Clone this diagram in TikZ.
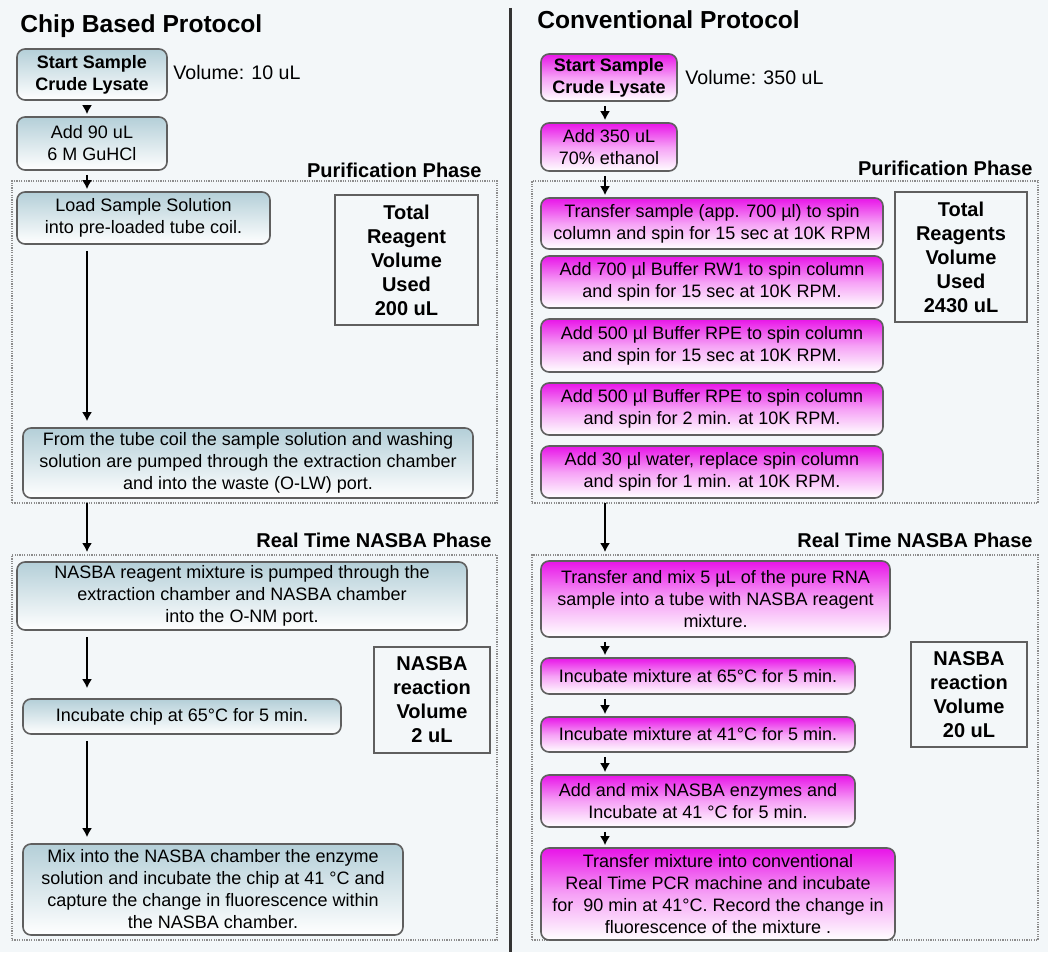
\documentclass[tikz,border=0pt]{standalone}
\usepackage{fontspec}
\setmainfont{Liberation Sans}
\usetikzlibrary{arrows.meta}

\definecolor{bgcol}{RGB}{243,247,249}
\definecolor{chiptop}{RGB}{180,207,216}
\definecolor{convtop}{RGB}{232,20,232}
\definecolor{edgecol}{RGB}{95,95,95}

\tikzset{
  chipbox/.style={draw=edgecol, line width=0.8pt, rounded corners=4pt,
    top color=chiptop, bottom color=white, align=center, inner sep=0pt,
    font=\fontsize{9}{11}\selectfont},
  convbox/.style={chipbox, top color=convtop, bottom color=white, middle color=convtop!40!white},
  startbox/.style={font=\bfseries\fontsize{9}{11}\selectfont},
  volbox/.style={draw=edgecol, line width=0.8pt, align=center, inner sep=0pt,
    font=\bfseries\fontsize{10}{12}\selectfont},
  phaseframe/.style={draw=gray!90, dash pattern=on 0.6pt off 0.6pt, line width=0.9pt, inner sep=0pt},
  phaselabel/.style={font=\bfseries\fontsize{10}{12}\selectfont, anchor=south east, inner sep=0pt},
  flow/.style={-{Latex[length=4.5pt,width=5pt]}, line width=1.2pt, shorten <=2pt, shorten >=1pt}
}

\begin{document}
\begin{tikzpicture}[x=0.5pt, y=-0.5pt]
  % background
  \fill[bgcol] (0,0) rectangle (1048,952);
  \useasboundingbox (0,0) rectangle (1048,952);

  % divider
  \draw[line width=1.5pt, black!80] (510,8) -- (510,952);

  % titles
  \node[anchor=base west, inner sep=0pt, font=\bfseries\fontsize{12.3}{14}\selectfont] (ltitle) at (20,33) {Chip Based Protocol};
  \node[anchor=base west, inner sep=0pt, font=\bfseries\fontsize{12.3}{14}\selectfont] (rtitle) at (537,29) {Conventional Protocol};

  % phase frames
  \node[phaseframe, minimum width=242.5pt, minimum height=161pt] (lpur) at (254.5,342) {};
  \node[phaseframe, minimum width=242.5pt, minimum height=192.5pt] (lnas) at (254.5,747.5) {};
  \node[phaseframe, minimum width=253pt, minimum height=161pt] (rpur) at (785,342) {};
  \node[phaseframe, minimum width=253pt, minimum height=192.5pt] (rnas) at (785,747.5) {};
  \node[phaselabel] (lpurlab) at (482,178) {Purification Phase};
  \node[phaselabel] (lnaslab) at (492,548) {Real Time NASBA Phase};
  \node[phaselabel] (rpurlab) at (1033,176) {Purification Phase};
  \node[phaselabel] (rnaslab) at (1033,548) {Real Time NASBA Phase};

  % chip based protocol
  \node[chipbox, startbox, minimum width=75pt, minimum height=25.5pt] (lstart) at (92,74.5) {Start Sample\\Crude Lysate};
  \node[anchor=base west, inner sep=0pt, font=\fontsize{9.8}{12}\selectfont] (lvol) at (173,80) {Volume: 10 uL};
  \node[chipbox, minimum width=75pt, minimum height=26.5pt] (ladd) at (92,143.5) {Add 90 uL\\6 M GuHCl};
  \node[chipbox, minimum width=126.5pt, minimum height=26pt] (lload) at (143.5,218) {Load Sample Solution\\into pre-loaded tube coil.};
  \node[volbox, minimum width=71.5pt, minimum height=65pt] (ltotal) at (406.5,260) {Total\\Reagent\\Volume\\Used\\200 uL};
  \node[chipbox, minimum width=225pt, minimum height=35pt] (lfrom) at (248,463) {From the tube coil the sample solution and washing\\solution are pumped through the extraction chamber\\and into the waste (O-LW) port.};
  \node[chipbox, minimum width=225pt, minimum height=34pt] (lpump) at (242,596) {NASBA reagent mixture is pumped through the\\extraction chamber and NASBA chamber\\into the O-NM port.};
  \node[chipbox, minimum width=159pt, minimum height=17.5pt] (lincub) at (182,716.5) {Incubate chip at 65°C for 5 min.};
  \node[volbox, minimum width=58pt, minimum height=53pt] (lreact) at (432,700) {NASBA\\reaction\\Volume\\2 uL};
  \node[chipbox, minimum width=190pt, minimum height=45.5pt] (lmix) at (213,889.5) {Mix into the NASBA chamber the enzyme\\solution and incubate the chip at 41 °C and\\capture the change in fluorescence within\\the NASBA chamber.};

  % conventional protocol
  \node[convbox, startbox, minimum width=68pt, minimum height=23.5pt] (rstart) at (609,77.5) {Start Sample\\Crude Lysate};
  \node[anchor=base west, inner sep=0pt, font=\fontsize{9.8}{12}\selectfont] (rvol) at (685,85) {Volume: 350 uL};
  \node[convbox, minimum width=68pt, minimum height=24pt] (radd) at (609,147) {Add 350 uL\\70\% ethanol};
  \node[convbox, minimum width=171pt, minimum height=25.5pt] (rspin) at (712,223.5) {Transfer sample (app. 700 µl) to spin\\column and spin for 15 sec at 10K RPM};
  \node[convbox, minimum width=171pt, minimum height=26pt] (rrw) at (712,282) {Add 700 µl Buffer RW1 to spin column\\and spin for 15 sec at 10K RPM.};
  \node[convbox, minimum width=171pt, minimum height=26.5pt] (rrpea) at (712,345.5) {Add 500 µl Buffer RPE to spin column\\and spin for 15 sec at 10K RPM.};
  \node[convbox, minimum width=171pt, minimum height=26pt] (rrpeb) at (712,409) {Add 500 µl Buffer RPE to spin column\\and spin for 2 min. at 10K RPM.};
  \node[convbox, minimum width=171pt, minimum height=26pt] (rwater) at (712,472) {Add 30 µl water, replace spin column\\and spin for 1 min. at 10K RPM.};
  \node[volbox, minimum width=66pt, minimum height=65pt] (rtotal) at (961,257) {Total\\Reagents\\Volume\\Used\\2430 uL};
  \node[convbox, minimum width=174.5pt, minimum height=38pt] (rrna) at (715.5,599) {Transfer and mix 5 µL of the pure RNA\\sample into a tube with NASBA reagent\\mixture.};
  \node[convbox, minimum width=157pt, minimum height=18pt] (rhot) at (698,676) {Incubate mixture at 65°C for 5 min.};
  \node[convbox, minimum width=157pt, minimum height=17.5pt] (rwarm) at (698,734.5) {Incubate mixture at 41°C for 5 min.};
  \node[convbox, minimum width=157pt, minimum height=26pt] (renz) at (698,801) {Add and mix NASBA enzymes and\\Incubate at 41 °C for 5 min.};
  \node[convbox, minimum width=177pt, minimum height=46pt] (rpcr) at (718,894) {Transfer mixture into conventional\\Real Time PCR machine and incubate\\for~ 90 min at 41°C. Record the change in\\fluorescence of the mixture .};
  \node[volbox, minimum width=58pt, minimum height=52.5pt] (rreact) at (969,694.5) {NASBA\\reaction\\Volume\\20 uL};

  % arrows
  \coordinate (L) at (87,0);
  \coordinate (R) at (605,0);
  \draw[flow] (lstart.south -| L) -- (ladd.north -| L);
  \draw[flow] (ladd.south -| L) -- (lload.north -| L);
  \draw[flow, shorten <=3pt, shorten >=3pt] (lload.south -| L) -- (lfrom.north -| L);
  \draw[flow] (lfrom.south -| L) -- (lnas.north -| L);
  \draw[flow, shorten <=3pt, shorten >=5pt] (lpump.south -| L) -- (lincub.north -| L);
  \draw[flow, shorten <=3pt, shorten >=3pt] (lincub.south -| L) -- (lmix.north -| L);

  \draw[flow] (rstart.south -| R) -- (radd.north -| R);
  \draw[flow] (radd.south -| R) -- (rspin.north -| R);
  \draw[flow] (rwater.south -| R) -- (rnas.north -| R);
  \draw[flow] (rrna.south -| R) -- (rhot.north -| R);
  \draw[flow] (rhot.south -| R) -- (rwarm.north -| R);
  \draw[flow] (rwarm.south -| R) -- (renz.north -| R);
  \draw[flow] (renz.south -| R) -- (rpcr.north -| R);
\end{tikzpicture}
\end{document}
